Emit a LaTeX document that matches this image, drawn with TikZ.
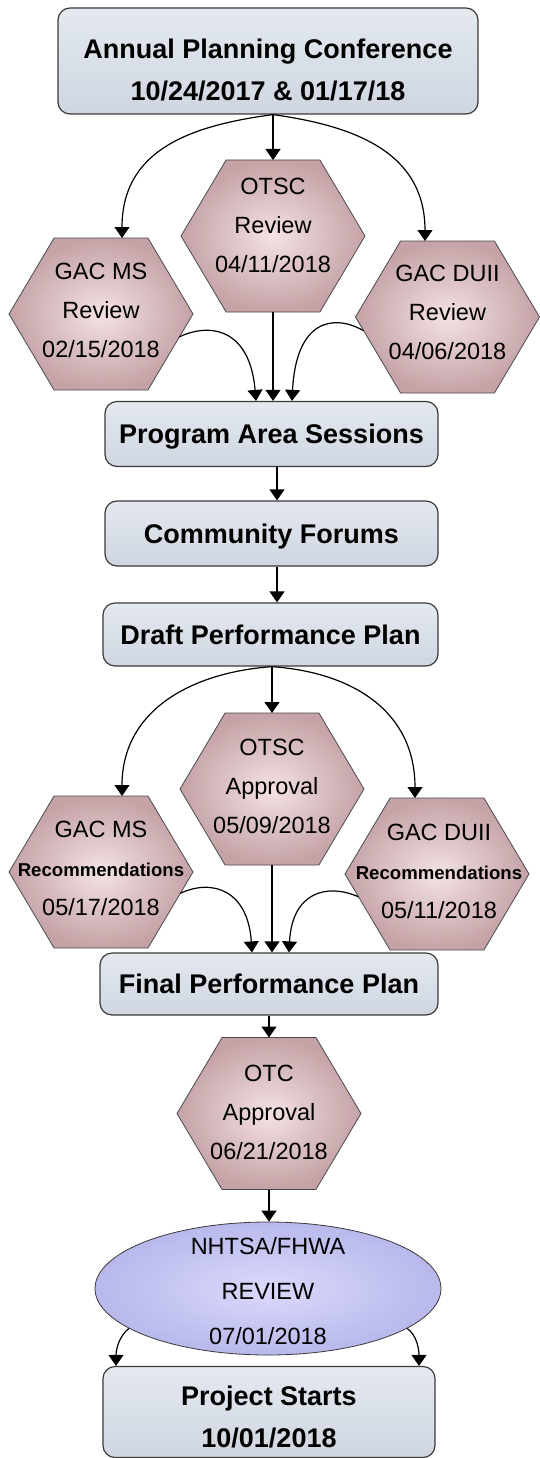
\documentclass[tikz,border=0pt]{standalone}
\usepackage{fontspec}
\setmainfont{Liberation Sans}
\usetikzlibrary{arrows.meta,shapes.geometric,calc,backgrounds}
\definecolor{boxtop}{HTML}{E4E9F0}
\definecolor{boxbot}{HTML}{CFD6E0}
\definecolor{boxline}{HTML}{3A3A3A}
\definecolor{hexin}{HTML}{F4E2E3}
\definecolor{hexout}{HTML}{C4A2A6}
\definecolor{hexline}{HTML}{4A4A4A}
\definecolor{ellin}{HTML}{DADAFC}
\definecolor{ellout}{HTML}{B8B8EC}
\newcommand\hexdraw[1]{%
  \shadedraw[draw=hexline, line width=0.8pt, inner color=hexin, outer color=hexout]
   ($(#1.north west)!0.245!(#1.north east)$) -- ($(#1.north west)!0.755!(#1.north east)$) -- (#1.east)
   -- ($(#1.south west)!0.755!(#1.south east)$) -- ($(#1.south west)!0.245!(#1.south east)$) -- (#1.west) -- cycle;}
\newcommand\recword{{\bfseries\fontsize{18.6}{39}\selectfont Recommendations}}
\begin{document}
\begin{tikzpicture}[x=1pt,y=-1pt,
  box/.style={draw=boxline, line width=1.2pt, rounded corners=12pt, top color=boxtop, bottom color=boxbot,
    inner sep=0pt, align=center, font=\fontsize{27}{42}\selectfont\bfseries},
  onebox/.style={box, text height=19.5pt, text depth=0pt},
  hexbox/.style={rectangle, minimum width=184pt, minimum height=152pt, inner sep=0pt, outer sep=0pt},
  hextxt/.style={align=center, inner sep=0pt, font=\fontsize{23.5}{39}\selectfont},
  conn/.style={line width=1.2pt, -{Triangle[width=15pt,length=11pt]}},
]
\useasboundingbox (0,0) rectangle (539,1458);

% top box
\node[box, minimum width=420pt, minimum height=106pt] (annual) at (268,61) {\rule{0pt}{37.5pt}Annual Planning Conference\\10/24/2017 \& 01/17/18};

% review hexagons
\node[hexbox] (otsc) at (273,236) {};
\node[hextxt] (otsc-t) at (273,225) {OTSC\\Review\\04/11/2018};
\node[hexbox] (gacms) at (101,314) {};
\node[hextxt] (gacms-t) at (101,310) {GAC MS\\Review\\02/15/2018};
\node[hexbox] (gacd) at (447.5,317) {};
\node[hextxt] (gacd-t) at (447.5,312) {GAC DUII\\Review\\04/06/2018};

% boxes
\node[onebox, minimum width=333pt, minimum height=65pt] (prog) at (271.5,434) {Program Area Sessions};
\node[onebox, minimum width=333pt, minimum height=65pt] (comm) at (271.5,533.5) {Community Forums};
\node[onebox, minimum width=335pt, minimum height=63pt] (draft) at (270.5,634.5) {Draft Performance Plan};

% approval hexagons
\node[hexbox] (otscA) at (272,789) {};
\node[hextxt] (otscA-t) at (272,786) {OTSC\\Approval\\05/09/2018};
\node[hexbox] (gacmsR) at (101,872) {};
\node[hextxt] (gacmsR-t) at (101,868) {GAC MS\\\recword\\05/17/2018};
\node[hexbox] (gacdR) at (437,874) {};
\node[hextxt] (gacdR-t) at (439,871) {GAC DUII\\\recword\\05/11/2018};

\node[onebox, minimum width=338pt, minimum height=62pt] (final) at (269,984) {Final Performance Plan};

\node[hexbox] (otc) at (269,1113.5) {};
\node[hextxt] (otc-t) at (269,1112) {OTC\\Approval\\06/21/2018};

\node[ellipse, draw=boxline, line width=0.8pt, inner color=ellin, outer color=ellout,
  minimum width=346pt, minimum height=133pt, inner sep=0pt] (nh) at (268,1288.5) {};
\node[hextxt, font=\fontsize{23.5}{45}\selectfont] (nh-t) at (268,1291) {NHTSA/FHWA\\REVIEW\\07/01/2018};

\node[box, minimum width=332pt, minimum height=91pt] (proj) at (269,1412) {\rule{0pt}{29.5pt}Project Starts\\10/01/2018};

\begin{pgfonlayer}{background}
\hexdraw{otsc}\hexdraw{gacms}\hexdraw{gacd}
\hexdraw{otscA}\hexdraw{gacmsR}\hexdraw{gacdR}\hexdraw{otc}
\end{pgfonlayer}

% helper coordinates
\coordinate (a-out) at (annual.south -| otsc.north);
\coordinate (gacms-br) at ([xshift=-45pt]gacms.south east);
\coordinate (gacd-bl) at ([xshift=45pt]gacd.south west);
\coordinate (gacms-o) at ($(gacms.east)!0.3!(gacms-br)$);
\coordinate (gacd-o) at ($(gacd.west)!0.18!(gacd-bl)$);
\coordinate (d-out) at (draft.south -| otscA.north);
\coordinate (gacmsR-br) at ([xshift=-45pt]gacmsR.south east);
\coordinate (gacdR-bl) at ([xshift=45pt]gacdR.south west);
\coordinate (gacmsR-o) at ($(gacmsR.east)!0.28!(gacmsR-br)$);
\coordinate (gacdR-o) at ($(gacdR.west)!0.3!(gacdR-bl)$);

% connectors, top section
\draw[conn] (a-out) -- (otsc.north);
\draw[conn] (a-out) .. controls +(-83,11) and +(0,-88) .. ([xshift=21pt]gacms.north);
\draw[conn] (a-out) .. controls +(79,11) and +(0,-90) .. ([xshift=-22.5pt]gacd.north);
\draw[conn] (gacms-o) .. controls +(32,-15) and +(-6,-71) .. ([xshift=-15.5pt]prog.north);
\draw[conn] (otsc.south) -- (otsc.south |- prog.north);
\draw[conn] (gacd-o) .. controls +(-32,-18) and +(4,-79) .. ([xshift=20.5pt]prog.north);

\draw[conn] ([xshift=5.5pt]prog.south) -- ([xshift=5.5pt]prog.south |- comm.north);
\draw[conn] ([xshift=5.5pt]comm.south) -- ([xshift=5.5pt]comm.south |- draft.north);

% middle section
\draw[conn] (d-out) -- (otscA.north);
\draw[conn] (d-out) .. controls +(-82,6) and +(0,-85) .. ([xshift=21pt]gacmsR.north);
\draw[conn] (d-out) .. controls +(82,6) and +(0,-86) .. ([xshift=-22pt]gacdR.north);
\draw[conn] (gacmsR-o) .. controls +(32,-15) and +(-4,-62) .. ([xshift=-17pt]final.north);
\draw[conn] (otscA.south) -- (otscA.south |- final.north);
\draw[conn] (gacdR-o) .. controls +(-32,-14) and +(3,-60) .. ([xshift=20pt]final.north);

% bottom section
\draw[conn] (final.south -| otc.north) -- (otc.north);
\draw[conn] (otc.south) -- (otc.south |- nh.north);
\draw[conn] (nh.196) .. controls +(-10,8) and +(0,-16) .. ([xshift=-153pt]proj.north);
\draw[conn] (nh.344) .. controls +(10,7) and +(0,-16) .. ([xshift=150pt]proj.north);
\end{tikzpicture}
\end{document}
